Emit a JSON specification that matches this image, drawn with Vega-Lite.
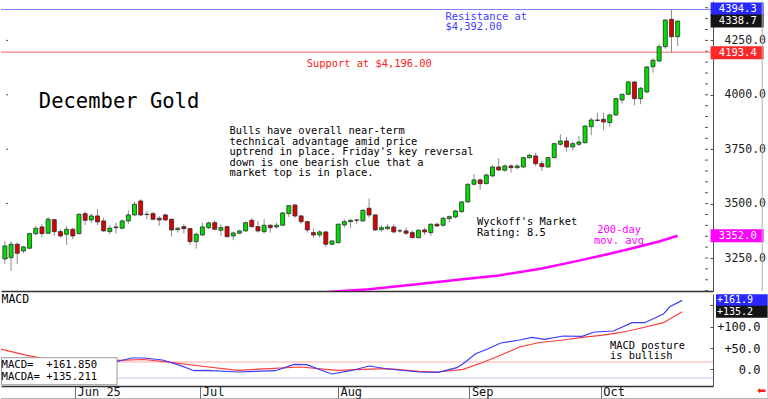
{
  "$schema": "https://vega.github.io/schema/vega-lite/v6.json",
  "padding": 0,
  "background": "white",
  "spacing": 1,
  "config": {
    "view": {"stroke": null},
    "font": "DejaVu Sans Mono",
    "text": {"font": "DejaVu Sans Mono"},
    "axis": {"labelFont": "DejaVu Sans Mono", "grid": false, "labelOverlap": false}
  },
  "datasets": {
    "candles": [
      {"i":-12,"o":3245.7,"h":3328.4,"l":3222.8,"c":3305.5},
      {"i":-11,"o":3251.7,"h":3328.4,"l":3190.6,"c":3313.3},
      {"i":-10,"o":3313.3,"h":3320.6,"l":3221.4,"c":3271.9},
      {"i":-9,"o":3282.5,"h":3305.5,"l":3271.9,"c":3300.9},
      {"i":-8,"o":3294.9,"h":3366.6,"l":3290.3,"c":3362.0},
      {"i":-7,"o":3362.0,"h":3397.3,"l":3354.6,"c":3386.8},
      {"i":-6,"o":3392.8,"h":3405.2,"l":3346.8,"c":3362.0},
      {"i":-5,"o":3363.8,"h":3438.7,"l":3359.2,"c":3428.1},
      {"i":-4,"o":3426.3,"h":3429.5,"l":3351.4,"c":3371.2},
      {"i":-3,"o":3371.2,"h":3382.2,"l":3343.6,"c":3351.4},
      {"i":-2,"o":3359.2,"h":3397.3,"l":3310.1,"c":3382.2},
      {"i":-1,"o":3382.2,"h":3389.5,"l":3336.3,"c":3351.4},
      {"i":0,"o":3362.0,"h":3453.9,"l":3359.2,"c":3451.1},
      {"i":1,"o":3453.9,"h":3463.1,"l":3401.9,"c":3423.5},
      {"i":2,"o":3424.9,"h":3453.9,"l":3412.5,"c":3443.3},
      {"i":3,"o":3443.3,"h":3474.1,"l":3400.6,"c":3415.7},
      {"i":4,"o":3420.3,"h":3435.5,"l":3371.2,"c":3374.4},
      {"i":5,"o":3371.2,"h":3400.6,"l":3359.2,"c":3386.8},
      {"i":6,"o":3392.8,"h":3412.5,"l":3362.0,"c":3389.5},
      {"i":7,"o":3386.8,"h":3428.1,"l":3382.2,"c":3420.3},
      {"i":8,"o":3420.3,"h":3469.5,"l":3405.2,"c":3447.9},
      {"i":9,"o":3447.9,"h":3509.0,"l":3443.3,"c":3497.0},
      {"i":10,"o":3512.2,"h":3520.0,"l":3443.3,"c":3447.9},
      {"i":11,"o":3449.7,"h":3466.3,"l":3428.1,"c":3451.1},
      {"i":12,"o":3453.9,"h":3463.1,"l":3423.5,"c":3428.1},
      {"i":13,"o":3432.7,"h":3443.3,"l":3397.3,"c":3424.9},
      {"i":14,"o":3447.9,"h":3453.9,"l":3420.3,"c":3424.9},
      {"i":15,"o":3428.1,"h":3430.9,"l":3348.2,"c":3379.0},
      {"i":16,"o":3380.3,"h":3392.8,"l":3366.6,"c":3386.8},
      {"i":17,"o":3394.1,"h":3405.2,"l":3362.0,"c":3384.9},
      {"i":18,"o":3384.9,"h":3389.5,"l":3310.1,"c":3325.2},
      {"i":19,"o":3325.2,"h":3366.6,"l":3293.1,"c":3359.2},
      {"i":20,"o":3356.0,"h":3412.5,"l":3351.4,"c":3392.8},
      {"i":21,"o":3389.5,"h":3417.1,"l":3382.2,"c":3411.1},
      {"i":22,"o":3412.5,"h":3423.5,"l":3377.6,"c":3382.2},
      {"i":23,"o":3377.6,"h":3405.2,"l":3351.4,"c":3389.5},
      {"i":24,"o":3394.1,"h":3397.3,"l":3343.6,"c":3348.2},
      {"i":25,"o":3351.4,"h":3371.2,"l":3331.7,"c":3365.2},
      {"i":26,"o":3363.8,"h":3379.0,"l":3359.2,"c":3374.4},
      {"i":27,"o":3374.4,"h":3417.1,"l":3371.2,"c":3412.5},
      {"i":28,"o":3423.5,"h":3432.7,"l":3389.5,"c":3394.1},
      {"i":29,"o":3394.1,"h":3420.3,"l":3366.6,"c":3374.4},
      {"i":30,"o":3371.2,"h":3428.1,"l":3362.0,"c":3400.6},
      {"i":31,"o":3400.6,"h":3405.2,"l":3366.6,"c":3389.5},
      {"i":32,"o":3392.8,"h":3412.5,"l":3384.9,"c":3400.6},
      {"i":33,"o":3400.6,"h":3461.7,"l":3397.3,"c":3457.1},
      {"i":34,"o":3453.9,"h":3493.8,"l":3438.7,"c":3490.6},
      {"i":35,"o":3493.8,"h":3497.0,"l":3435.5,"c":3443.3},
      {"i":36,"o":3443.3,"h":3447.9,"l":3405.2,"c":3417.1},
      {"i":37,"o":3417.1,"h":3420.3,"l":3366.6,"c":3379.0},
      {"i":38,"o":3366.6,"h":3384.9,"l":3343.6,"c":3356.0},
      {"i":39,"o":3356.0,"h":3377.6,"l":3343.6,"c":3369.8},
      {"i":40,"o":3369.8,"h":3374.4,"l":3300.9,"c":3313.3},
      {"i":41,"o":3313.3,"h":3331.7,"l":3308.7,"c":3328.4},
      {"i":42,"o":3320.6,"h":3407.9,"l":3316.0,"c":3405.2},
      {"i":43,"o":3401.9,"h":3428.1,"l":3389.5,"c":3417.1},
      {"i":44,"o":3417.1,"h":3428.1,"l":3389.5,"c":3423.5},
      {"i":45,"o":3424.9,"h":3428.1,"l":3405.2,"c":3423.5},
      {"i":46,"o":3420.3,"h":3474.1,"l":3417.1,"c":3469.5},
      {"i":47,"o":3478.7,"h":3522.8,"l":3435.5,"c":3447.9},
      {"i":48,"o":3447.9,"h":3451.1,"l":3374.4,"c":3379.0},
      {"i":49,"o":3380.3,"h":3401.9,"l":3371.2,"c":3389.5},
      {"i":50,"o":3384.9,"h":3405.2,"l":3379.0,"c":3392.8},
      {"i":51,"o":3392.8,"h":3405.2,"l":3363.8,"c":3369.8},
      {"i":52,"o":3375.0,"h":3384.9,"l":3366.6,"c":3374.4},
      {"i":53,"o":3374.4,"h":3389.5,"l":3356.0,"c":3363.8},
      {"i":54,"o":3366.6,"h":3377.6,"l":3340.8,"c":3343.6},
      {"i":55,"o":3343.6,"h":3382.2,"l":3339.0,"c":3377.6},
      {"i":56,"o":3379.0,"h":3389.5,"l":3356.0,"c":3369.8},
      {"i":57,"o":3366.6,"h":3409.8,"l":3351.4,"c":3405.2},
      {"i":58,"o":3405.2,"h":3412.5,"l":3392.8,"c":3397.3},
      {"i":59,"o":3400.6,"h":3438.7,"l":3394.1,"c":3432.7},
      {"i":60,"o":3430.9,"h":3446.5,"l":3412.5,"c":3440.1},
      {"i":61,"o":3438.7,"h":3470.9,"l":3432.7,"c":3466.3},
      {"i":62,"o":3463.1,"h":3512.2,"l":3458.5,"c":3507.6},
      {"i":63,"o":3507.6,"h":3593.5,"l":3504.4,"c":3588.9},
      {"i":64,"o":3588.9,"h":3634.9,"l":3584.3,"c":3608.7},
      {"i":65,"o":3608.7,"h":3616.5,"l":3562.7,"c":3591.7},
      {"i":66,"o":3591.7,"h":3637.6,"l":3588.9,"c":3631.6},
      {"i":67,"o":3627.0,"h":3676.2,"l":3622.5,"c":3668.4},
      {"i":68,"o":3668.4,"h":3708.4,"l":3650.0,"c":3654.6},
      {"i":69,"o":3653.2,"h":3680.8,"l":3646.8,"c":3673.0},
      {"i":70,"o":3673.0,"h":3680.8,"l":3642.2,"c":3665.2},
      {"i":71,"o":3665.2,"h":3680.8,"l":3657.8,"c":3673.0},
      {"i":72,"o":3668.4,"h":3714.3,"l":3662.4,"c":3711.1},
      {"i":73,"o":3711.1,"h":3729.5,"l":3706.5,"c":3722.1},
      {"i":74,"o":3718.9,"h":3734.1,"l":3673.0,"c":3683.6},
      {"i":75,"o":3683.6,"h":3696.0,"l":3650.0,"c":3669.8},
      {"i":76,"o":3668.4,"h":3714.3,"l":3665.2,"c":3711.1},
      {"i":77,"o":3711.1,"h":3780.0,"l":3708.4,"c":3775.4},
      {"i":78,"o":3772.7,"h":3818.6,"l":3764.9,"c":3787.8},
      {"i":79,"o":3787.8,"h":3806.2,"l":3738.7,"c":3760.3},
      {"i":80,"o":3760.3,"h":3784.6,"l":3745.1,"c":3775.4},
      {"i":81,"o":3772.7,"h":3810.8,"l":3764.9,"c":3783.2},
      {"i":82,"o":3780.0,"h":3860.0,"l":3775.4,"c":3856.7},
      {"i":83,"o":3853.5,"h":3894.9,"l":3814.0,"c":3884.3},
      {"i":84,"o":3882.0,"h":3917.8,"l":3876.5,"c":3884.3},
      {"i":85,"o":3887.5,"h":3917.8,"l":3837.0,"c":3875.1},
      {"i":86,"o":3871.9,"h":3913.3,"l":3852.2,"c":3907.3},
      {"i":87,"o":3907.3,"h":3986.8,"l":3902.7,"c":3982.2},
      {"i":88,"o":3976.2,"h":4005.1,"l":3959.2,"c":4002.4},
      {"i":89,"o":4002.4,"h":4063.5,"l":3999.2,"c":4058.9},
      {"i":90,"o":4058.9,"h":4063.5,"l":3951.8,"c":3982.2},
      {"i":91,"o":3982.2,"h":4035.9,"l":3956.4,"c":4029.9},
      {"i":92,"o":4012.9,"h":4132.4,"l":4007.0,"c":4127.8},
      {"i":93,"o":4129.2,"h":4167.8,"l":4101.6,"c":4158.6},
      {"i":94,"o":4155.4,"h":4234.8,"l":4150.8,"c":4221.1},
      {"i":95,"o":4221.1,"h":4346.9,"l":4211.9,"c":4343.7},
      {"i":96,"o":4346.9,"h":4394.3,"l":4193.4,"c":4267.0},
      {"i":97,"o":4267.0,"h":4342.3,"l":4224.3,"c":4338.7}
    ],
    "ma": [
      {"i":38,"v":3088},{"i":42,"v":3097},{"i":47,"v":3106},{"i":54,"v":3127},
      {"i":61,"v":3149},{"i":68,"v":3170},{"i":75,"v":3202},{"i":81,"v":3238},
      {"i":86,"v":3270},{"i":90,"v":3297},{"i":94,"v":3326},{"i":97,"v":3352}
    ],
    "macd": [
      {"i":-11,"v":16},{"i":-8,"v":13},{"i":-5,"v":12},{"i":0,"v":11},{"i":4,"v":13},
      {"i":7,"v":19},{"i":9,"v":26.5},{"i":11,"v":26.5},{"i":14,"v":21.8},{"i":17,"v":8},
      {"i":19,"v":-3.3},{"i":21,"v":-2.3},{"i":26,"v":-6.3},{"i":32,"v":-3.3},{"i":35,"v":11.7},
      {"i":37,"v":10.8},{"i":41,"v":-11},{"i":44,"v":-3.3},{"i":47,"v":7.7},{"i":50,"v":0.7},
      {"i":55,"v":-6.3},{"i":58,"v":-7},{"i":61,"v":3.8},{"i":62,"v":13.1},{"i":64,"v":36.6},
      {"i":66,"v":48.4},{"i":68,"v":61.7},{"i":71,"v":68.8},{"i":73,"v":75.1},{"i":75,"v":70.4},
      {"i":78,"v":78.2},{"i":81,"v":77.5},{"i":83,"v":87.6},{"i":86,"v":89.9},{"i":89,"v":109.4},
      {"i":91,"v":109.4},{"i":94,"v":129.8},{"i":95,"v":146.9},{"i":97,"v":161.85}
    ],
    "signal": [
      {"i":-12,"v":48},{"i":-10,"v":41},{"i":-8,"v":34},{"i":-5,"v":25},{"i":0,"v":22},
      {"i":7,"v":21.1},{"i":11,"v":23},{"i":15,"v":17},{"i":20,"v":7.7},{"i":26,"v":-2.3},
      {"i":31,"v":1.5},{"i":36,"v":5.4},{"i":42,"v":-2.3},{"i":46,"v":0},{"i":50,"v":1.4},
      {"i":55,"v":-4.7},{"i":58,"v":-6.3},{"i":62,"v":0},{"i":65,"v":15.5},{"i":68,"v":32.9},
      {"i":71,"v":52.3},{"i":74,"v":62.4},{"i":78,"v":68.8},{"i":81,"v":75.1},{"i":84,"v":79.8},
      {"i":87,"v":85.9},{"i":90,"v":95.3},{"i":94,"v":109.4},{"i":97,"v":135.211}
    ],
    "priceTicks": [
      {"p":3100},{"p":3150},{"p":3200},{"p":3250},{"p":3300},{"p":3350},{"p":3400},{"p":3450},{"p":3500},
      {"p":3550},{"p":3600},{"p":3650},{"p":3700},{"p":3750},{"p":3800},{"p":3850},{"p":3900},{"p":3950},
      {"p":4000},{"p":4050},{"p":4100},{"p":4150},{"p":4200},{"p":4250},{"p":4300},{"p":4350},{"p":4400}
    ],
    "majorTicks": [{"p":3250},{"p":3500},{"p":3750},{"p":4000},{"p":4250}]
  },
  "vconcat": [
    {
      "width": 712,
      "height": 290,
      "layer": [
        {
          "data": {"name": "candles"},
          "mark": {"type": "bar", "width": 4, "clip": true, "opacity": 0},
          "encoding": {
            "x": {
              "field": "i", "type": "quantitative",
              "scale": {"domain": [-11.821, 101.917], "nice": false, "zero": false},
              "axis": {"orient": "bottom", "labels": false, "ticks": false, "domain": true, "domainColor": "#303030", "domainWidth": 1.5, "title": null, "grid": false}
            },
            "y": {
              "field": "o", "type": "quantitative",
              "scale": {"domain": [3098.4, 4431], "nice": false, "zero": false},
              "axis": {
                "orient": "right", "title": null, "grid": false,
                "values": [3250, 3500, 3750, 4000, 4250],
                "format": ".1f",
                "tickSize": -3, "labelPadding": 14, "labelAlign": "left", "labelBaseline": "middle",
                "labelFontSize": 11.5, "labelColor": "#222222", "labelOverlap": false, "labelFlush": false,
                "domainColor": "#505050", "tickColor": "#505050"
              }
            },
            "y2": {"field": "c"}
          }
        },
        {
          "data": {"name": "priceTicks"},
          "mark": {"type": "rule", "color": "#505050", "strokeWidth": 1},
          "encoding": {
            "x": {"datum": 101.44, "type": "quantitative"},
            "x2": {"datum": 101.917},
            "y": {"field": "p", "type": "quantitative"}
          }
        },
        {
          "data": {"name": "majorTicks"},
          "mark": {"type": "rule", "color": "#505050", "strokeWidth": 1},
          "encoding": {
            "x": {"datum": -11.821, "type": "quantitative"},
            "x2": {"datum": -11.5},
            "y": {"field": "p", "type": "quantitative"}
          }
        },
        {
          "data": {"values": [{"level": 4392}]},
          "mark": {"type": "rule", "color": "#8080ff", "strokeWidth": 1},
          "encoding": {"y": {"field": "level", "type": "quantitative"}}
        },
        {
          "data": {"values": [{"level": 4196}]},
          "mark": {"type": "rule", "color": "#ff6464", "strokeWidth": 1},
          "encoding": {"y": {"field": "level", "type": "quantitative"}}
        },
        {
          "data": {"name": "ma"},
          "mark": {"type": "line", "color": "#ff00ff", "strokeWidth": 2.5, "clip": true},
          "encoding": {
            "x": {"field": "i", "type": "quantitative"},
            "y": {"field": "v", "type": "quantitative"}
          }
        },
        {
          "data": {"name": "candles"},
          "mark": {"type": "rule", "color": "#8c8c8c", "strokeWidth": 1, "clip": true},
          "encoding": {
            "x": {"field": "i", "type": "quantitative"},
            "y": {"field": "l", "type": "quantitative"},
            "y2": {"field": "h"}
          }
        },
        {
          "data": {"name": "candles"},
          "mark": {"type": "bar", "width": 4, "stroke": "#2a2a2a", "strokeWidth": 0.8, "clip": true},
          "encoding": {
            "x": {"field": "i", "type": "quantitative"},
            "y": {"field": "o", "type": "quantitative"},
            "y2": {"field": "c"},
            "color": {"condition": {"test": "datum.c >= datum.o", "value": "#00e000"}, "value": "#e00000"}
          }
        },
        {
          "data": {"values": [{"t": "December Gold"}]},
          "mark": {"type": "text", "align": "left", "baseline": "alphabetic", "fontSize": 20.5, "color": "#000000"},
          "encoding": {
            "x": {"datum": -6.5, "type": "quantitative"},
            "y": {"datum": 3940.7, "type": "quantitative"},
            "text": {"field": "t"}
          }
        },
        {
          "data": {"values": [{"t": "Bulls have overall near-term\ntechnical advantage amid price\nuptrend in place. Friday's key reversal\ndown is one bearish clue that a\nmarket top is in place."}]},
          "mark": {"type": "text", "align": "left", "baseline": "alphabetic", "fontSize": 10.4, "lineHeight": 10.5, "lineBreak": "\n", "color": "#000000"},
          "encoding": {
            "x": {"datum": 24.4, "type": "quantitative"},
            "y": {"datum": 3818.5, "type": "quantitative"},
            "text": {"field": "t"}
          }
        },
        {
          "data": {"values": [{"t": "Resistance at\n$4,392.00"}]},
          "mark": {"type": "text", "align": "left", "baseline": "alphabetic", "fontSize": 10.4, "lineHeight": 10.6, "lineBreak": "\n", "color": "#3c3cff"},
          "encoding": {
            "x": {"datum": 59.4, "type": "quantitative"},
            "y": {"datum": 4345.1, "type": "quantitative"},
            "text": {"field": "t"}
          }
        },
        {
          "data": {"values": [{"t": "Support at $4,196.00"}]},
          "mark": {"type": "text", "align": "left", "baseline": "alphabetic", "fontSize": 10.4, "color": "#ff2020"},
          "encoding": {
            "x": {"datum": 36.9, "type": "quantitative"},
            "y": {"datum": 4128.6, "type": "quantitative"},
            "text": {"field": "t"}
          }
        },
        {
          "data": {"values": [{"t": "Wyckoff's Market\nRating: 8.5"}]},
          "mark": {"type": "text", "align": "left", "baseline": "alphabetic", "fontSize": 10.4, "lineHeight": 10.6, "lineBreak": "\n", "color": "#000000"},
          "encoding": {
            "x": {"datum": 64.5, "type": "quantitative"},
            "y": {"datum": 3400.3, "type": "quantitative"},
            "text": {"field": "t"}
          }
        },
        {
          "data": {"values": [{"t": "200-day\nmov. avg"}]},
          "mark": {"type": "text", "align": "center", "baseline": "alphabetic", "fontSize": 10.4, "lineHeight": 10.6, "lineBreak": "\n", "color": "#ff00ff"},
          "encoding": {
            "x": {"datum": 87.5, "type": "quantitative"},
            "y": {"datum": 3362.7, "type": "quantitative"},
            "text": {"field": "t"}
          }
        },
        {
          "data": {"values": [{"v": 4394.3, "k": "high"}, {"v": 4338.7, "k": "last"}, {"v": 4193.4, "k": "low"}, {"v": 3352.0, "k": "ma"}]},
          "mark": {"type": "tick", "orient": "horizontal", "size": 53, "thickness": 13, "opacity": 1},
          "encoding": {
            "x": {"datum": 106.63, "type": "quantitative"},
            "y": {"field": "v", "type": "quantitative"},
            "color": {"field": "k", "type": "nominal", "legend": null, "scale": {"domain": ["high", "last", "low", "ma"], "range": ["#2828ff", "#141414", "#ff2828", "#ff00ff"]}}
          }
        },
        {
          "data": {"values": [{"v": 4394.3, "k": "high"}, {"v": 4338.7, "k": "last"}, {"v": 4193.4, "k": "low"}, {"v": 3352.0, "k": "ma"}]},
          "mark": {"type": "text", "align": "left", "baseline": "middle", "fontSize": 10.5, "color": "#ffffff"},
          "encoding": {
            "x": {"datum": 103.67, "type": "quantitative"},
            "y": {"field": "v", "type": "quantitative"},
            "text": {"field": "v", "type": "quantitative", "format": ".1f"}
          }
        },
        {
          "data": {"values": [{"edge": "right"}]},
          "mark": {"type": "rule", "color": "#b0b0b0", "strokeWidth": 1},
          "encoding": {
            "x": {"datum": 110.7, "type": "quantitative"},
            "y": {"datum": 4431, "type": "quantitative"},
            "y2": {"datum": 3098.4}
          }
        }
      ]
    },
    {
      "width": 712,
      "height": 92,
      "layer": [
        {
          "data": {"name": "macd"},
          "mark": {"type": "line", "opacity": 0},
          "encoding": {
            "x": {
              "field": "i", "type": "quantitative",
              "scale": {"domain": [-11.821, 101.917], "nice": false, "zero": false},
              "axis": {
                "orient": "bottom", "title": null, "grid": false,
                "values": [0, 20, 42, 63, 84],
                "labelExpr": "datum.value == 0 ? 'Jun 25' : datum.value == 20 ? 'Jul' : datum.value == 42 ? 'Aug' : datum.value == 63 ? 'Sep' : 'Oct'",
                "tickSize": 12, "tickColor": "#707070", "labelAlign": "left", "labelBaseline": "middle",
                "labelPadding": -7, "labelOffset": 2, "labelFontSize": 12, "labelColor": "#111111",
                "labelFlush": false, "labelOverlap": false, "domainColor": "#303030", "domainWidth": 1.5
              }
            },
            "y": {
              "field": "v", "type": "quantitative",
              "scale": {"domain": [-39.2, 176.8], "nice": false, "zero": false},
              "axis": {
                "orient": "right", "title": null, "grid": false,
                "values": [0, 50, 100],
                "labelExpr": "(datum.value > 0 ? '+' : '') + format(datum.value, '.1f')",
                "tickSize": -3, "labelPadding": 50, "labelAlign": "right", "labelBaseline": "middle",
                "labelFontSize": 12, "labelColor": "#111111", "labelOverlap": false, "labelFlush": false,
                "domainColor": "#505050", "tickColor": "#505050"
              }
            }
          }
        },
        {
          "data": {"values": [{"level": 150}]},
          "mark": {"type": "rule", "color": "#505050", "strokeWidth": 1},
          "encoding": {
            "x": {"datum": 101.44, "type": "quantitative"},
            "x2": {"datum": 101.917},
            "y": {"field": "level", "type": "quantitative"}
          }
        },
        {
          "data": {"values": [{"level": 17.1}]},
          "mark": {"type": "rule", "color": "#ffc8c8", "strokeWidth": 1.5},
          "encoding": {"y": {"field": "level", "type": "quantitative"}}
        },
        {
          "data": {"values": [{"level": -20.4}]},
          "mark": {"type": "rule", "color": "#c8c8ff", "strokeWidth": 1.2},
          "encoding": {"y": {"field": "level", "type": "quantitative"}}
        },
        {
          "data": {"name": "signal"},
          "mark": {"type": "line", "color": "#ff3c3c", "strokeWidth": 1.2, "clip": true},
          "encoding": {
            "x": {"field": "i", "type": "quantitative"},
            "y": {"field": "v", "type": "quantitative"}
          }
        },
        {
          "data": {"name": "macd"},
          "mark": {"type": "line", "color": "#3c3cff", "strokeWidth": 1.2, "clip": true},
          "encoding": {
            "x": {"field": "i", "type": "quantitative"},
            "y": {"field": "v", "type": "quantitative"}
          }
        },
        {
          "data": {"values": [{"t": "MACD=  +161.850\nMACDA= +135.211"}]},
          "mark": {"type": "rect", "fill": "#ffffff", "stroke": "#999999", "strokeWidth": 1},
          "encoding": {
            "x": {"datum": -11.74, "type": "quantitative"},
            "x2": {"datum": 6.71},
            "y": {"datum": 27.2, "type": "quantitative"},
            "y2": {"datum": -36.2}
          }
        },
        {
          "data": {"values": [{"t": "MACD=\u00a0\u00a0+161.850\nMACDA=\u00a0+135.211"}]},
          "mark": {"type": "text", "align": "left", "baseline": "alphabetic", "fontSize": 10.6, "lineHeight": 11.6, "lineBreak": "\n", "color": "#000000"},
          "encoding": {
            "x": {"datum": -11.74, "type": "quantitative"},
            "y": {"datum": 3.05, "type": "quantitative"},
            "text": {"field": "t"}
          }
        },
        {
          "data": {"values": [{"t": "MACD"}]},
          "mark": {"type": "text", "align": "left", "baseline": "alphabetic", "fontSize": 11.5, "color": "#000000"},
          "encoding": {
            "x": {"datum": -11.74, "type": "quantitative"},
            "y": {"datum": 156.3, "type": "quantitative"},
            "text": {"field": "t"}
          }
        },
        {
          "data": {"values": [{"t": "MACD posture\nis bullish"}]},
          "mark": {"type": "text", "align": "left", "baseline": "alphabetic", "fontSize": 10.4, "lineHeight": 10.6, "lineBreak": "\n", "color": "#000000"},
          "encoding": {
            "x": {"datum": 85.46, "type": "quantitative"},
            "y": {"datum": 48.4, "type": "quantitative"},
            "text": {"field": "t"}
          }
        },
        {
          "data": {"values": [{"v": 161.85, "k": "macd", "label": "+161.9"}, {"v": 135.211, "k": "signal", "label": "+135.2"}]},
          "mark": {"type": "tick", "orient": "horizontal", "size": 53, "thickness": 12, "opacity": 1},
          "encoding": {
            "x": {"datum": 106.63, "type": "quantitative"},
            "y": {"field": "v", "type": "quantitative"},
            "color": {"field": "k", "type": "nominal", "legend": null, "scale": {"domain": ["macd", "signal"], "range": ["#2828ff", "#ff2828"]}}
          }
        },
        {
          "data": {"values": [{"v": 161.85, "k": "macd", "label": "+161.9"}, {"v": 135.211, "k": "signal", "label": "+135.2"}]},
          "mark": {"type": "text", "align": "left", "baseline": "middle", "fontSize": 10, "color": "#ffffff"},
          "encoding": {
            "x": {"datum": 102.55, "type": "quantitative"},
            "y": {"field": "v", "type": "quantitative"},
            "text": {"field": "label"}
          }
        },
        {
          "data": {"values": [{"t": "⬅"}]},
          "mark": {"type": "text", "align": "center", "baseline": "middle", "fontSize": 11, "font": "DejaVu Sans", "color": "#ff2020"},
          "encoding": {
            "x": {"datum": 109.7, "type": "quantitative"},
            "y": {"datum": -50.9, "type": "quantitative"},
            "text": {"field": "t"}
          }
        },
        {
          "data": {"values": [{"edge": "bottom"}]},
          "mark": {"type": "rule", "color": "#707070", "strokeWidth": 1},
          "encoding": {
            "x": {"datum": -11.821, "type": "quantitative"},
            "x2": {"datum": 110.7},
            "y": {"datum": -69.7, "type": "quantitative"}
          }
        },
        {
          "data": {"values": [{"edge": "right"}]},
          "mark": {"type": "rule", "color": "#b0b0b0", "strokeWidth": 1},
          "encoding": {
            "x": {"datum": 110.7, "type": "quantitative"},
            "y": {"datum": 176.8, "type": "quantitative"},
            "y2": {"datum": -69.7}
          }
        }
      ]
    }
  ]
}
